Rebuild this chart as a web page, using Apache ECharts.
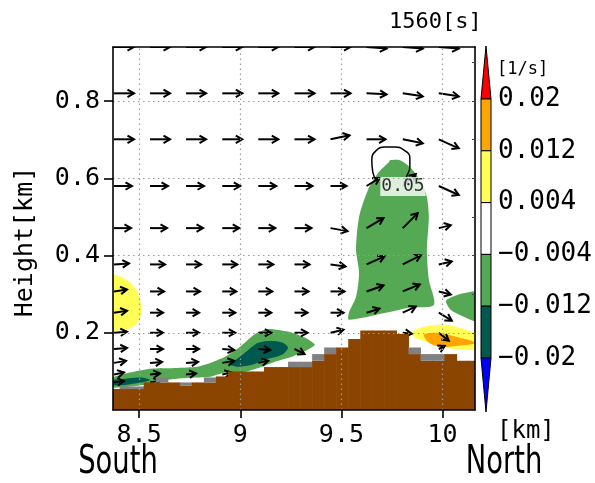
<!DOCTYPE html>
<html><head><meta charset="utf-8">
<script src="https://cdn.jsdelivr.net/npm/echarts@6/dist/echarts.min.js"></script>
<style>html,body{margin:0;padding:0;background:#fff}#c{width:595px;height:483px}</style>
</head><body><div id="c"></div>
<script>
// ---------- data ----------
const titleText = '1560[s]';
const xRange = [8.371, 10.16];
const yRange = [0, 0.94];
const xTicks = [8.5, 9, 9.5, 10];
const yTicks = [0.2, 0.4, 0.6, 0.8];
const yMinorTicks = [0.1, 0.2, 0.3, 0.4, 0.5, 0.6, 0.7, 0.8, 0.9];
const colorLevels = ['0.02', '0.012', '0.004', '\u22120.004', '\u22120.012', '\u22120.02'];
const colorFills = ['#ff0000', '#ffa500', '#ffff55', '#ffffff', '#55a955', '#00594f', '#0000ff'];

// terrain cells (centre x in km, top of terrain in km, top of grey cell in km)
const terrainX = [8.3755, 8.4350, 8.4944, 8.5539, 8.6133, 8.6728, 8.7323, 8.7917, 8.8512, 8.9106,
  8.9701, 9.0296, 9.0890, 9.1485, 9.2079, 9.2674, 9.3269, 9.3863, 9.4458, 9.5052,
  9.5647, 9.6242, 9.6836, 9.7431, 9.8025, 9.8620, 9.9215, 9.9809, 10.0404, 10.0998, 10.1593];
const terrainH = [0.0543, 0.0543, 0.0543, 0.0714, 0.0714, 0.0714, 0.0636, 0.0714, 0.0714, 0.0869,
  0.0998, 0.0998, 0.0998, 0.1112, 0.1112, 0.1112, 0.1112, 0.1275, 0.1448, 0.1619,
  0.1836, 0.2058, 0.2058, 0.2058, 0.1965, 0.1448, 0.1275, 0.1275, 0.1448, 0.1275, 0.1275];
const greyH = [null, 0.061, 0.061, null, 0.0843, null, 0.0714, null, 0.0843, null,
  null, null, null, null, null, 0.125, 0.125, 0.1448, 0.1619, null,
  null, null, null, null, null, 0.1619, 0.1448, 0.1448, null, null, null];

// wind vectors (tail positions, u and w components in arbitrary m/s-like units)
const arrowX = [8.376, 8.554, 8.732, 8.911, 9.089, 9.268, 9.446, 9.624, 9.803, 9.981];
const arrowZ = [0.940, 0.820, 0.701, 0.580, 0.471, 0.377, 0.307, 0.252, 0.200, 0.158, 0.122, 0.092, 0.072];
const uRows = [
  [10, 10, 10, 10, 10, 10, 10, 10, 10, 10],
  [10, 10, 10, 10, 10, 10, 10, 10, 10, 10],
  [10, 10, 10, 10, 10, 10, 9.5, 9.5, 10, 10],
  [9, 9, 9, 9, 9, 9, 8, 6.5, 6.5, 10],
  [8.5, 8.5, 8.5, 8.5, 8.5, 8.5, 8.5, 8.5, 7.5, 6],
  [7.5, 7.5, 7.5, 7.5, 7.5, 7.5, 7.5, 9, 9, 6.5],
  [6.5, 7, 7, 7, 7, 7, 7, 8.5, 8.5, 6],
  [6.5, 6.5, 6.5, 6.5, 6.5, 6.5, 6.5, 6.5, 6.5, 6.5],
  [6.5, 6.5, 6.5, 6.5, 6.5, 6.5, 6.5, null, 4.5, 5],
  [6.5, 6.5, 6.5, 6, 6, 5, null, null, null, 3],
  [6, 6, 6, 6, 5, null, null, null, null, null],
  [5, 5, 5, 4.5, null, null, null, null, null, null],
  [5, 5, null, null, null, null, null, null, null, null]
];
const wRows = [
  [0, 0, 0, 0, 0, 0, 0, -0.8, -0.8, -0.8],
  [0, 0, 0, 0, 0, 0, 0, -0.5, -1.5, -1.5],
  [0, 0, 0, 0, 0, 0, 2, 0, -2, -4.5],
  [0, 0, 0, 0, 0, 0, 0, 4, 6, -4.5],
  [0, 0, 0, 0, 0, 0, -1.5, 5, 7.5, 1.5],
  [0.5, 0, 0, 0, 0, 0, -1, 4, 4.5, 1.5],
  [1, 0, 0, 0, 0, 0, 0, 3, 3.5, -1.5],
  [1, 0, 0, 0, 0, 0, 0, 2, 3, -4],
  [0.5, 0, 0, 0, 0, 0, 1.5, null, -0.5, -4],
  [0.5, 0, 0, -0.5, -0.5, -2.5, null, null, null, 1.5],
  [1, 0.5, 0.5, 1, 1, null, null, null, null, null],
  [1, 0.5, 0.5, 1, null, null, null, null, null, null],
  [0.5, 0.5, null, null, null, null, null, null, null, null]
];

// shaded vorticity regions (x km, z km)
const greenTower = [[9.739, 0.647], [9.789, 0.647], [9.838, 0.629], [9.898, 0.588], [9.922, 0.552],
  [9.932, 0.500], [9.922, 0.415], [9.932, 0.337], [9.957, 0.272], [9.833, 0.265], [9.720, 0.252],
  [9.537, 0.234], [9.537, 0.252], [9.572, 0.293], [9.587, 0.355], [9.572, 0.415], [9.587, 0.500],
  [9.631, 0.570], [9.685, 0.616], [9.735, 0.642]];
const greenRight = [[10.016, 0.283], [10.090, 0.301], [10.194, 0.306], [10.194, 0.226], [10.115, 0.239], [10.041, 0.259]];
const greenBand = [[8.357, 0.081], [8.455, 0.097], [8.554, 0.107], [8.688, 0.109], [8.786, 0.112],
  [8.851, 0.122], [8.925, 0.138], [8.999, 0.164], [9.073, 0.197], [9.137, 0.210], [9.236, 0.203],
  [9.320, 0.187], [9.369, 0.169], [9.334, 0.156], [9.255, 0.138], [9.171, 0.125], [9.107, 0.112],
  [9.023, 0.099], [8.925, 0.097], [8.851, 0.086], [8.786, 0.084], [8.688, 0.081], [8.569, 0.073],
  [8.520, 0.065], [8.391, 0.058], [8.357, 0.058]];
const tealMid = [[8.959, 0.122], [9.023, 0.148], [9.088, 0.174], [9.157, 0.179], [9.211, 0.174],
  [9.236, 0.161], [9.206, 0.143], [9.122, 0.130], [9.058, 0.117], [8.989, 0.112], [8.949, 0.117]];
const tealLeft = [[8.357, 0.076], [8.431, 0.081], [8.505, 0.084], [8.554, 0.078], [8.505, 0.071], [8.431, 0.065], [8.357, 0.065]];
const yellowLeft = [[8.350, 0.350], [8.411, 0.345], [8.460, 0.329], [8.495, 0.303], [8.510, 0.267],
  [8.505, 0.239], [8.470, 0.215], [8.411, 0.208], [8.350, 0.208]];
const yellowRight = [[9.853, 0.203], [9.903, 0.215], [10.016, 0.221], [10.115, 0.208], [10.194, 0.190],
  [10.194, 0.161], [10.125, 0.156], [10.016, 0.161], [9.918, 0.177], [9.858, 0.190]];
const orangeRight = [[9.908, 0.195], [9.967, 0.200], [10.066, 0.190], [10.164, 0.174], [10.066, 0.166], [9.982, 0.164], [9.927, 0.177]];

// contour line of another field, with its label
const contourLevel = '0.05';
const contourLine = [[9.675, 0.592], [9.655, 0.616], [9.650, 0.647], [9.670, 0.671], [9.715, 0.681],
  [9.764, 0.681], [9.809, 0.673], [9.838, 0.653], [9.838, 0.629], [9.823, 0.606], [9.809, 0.585]];
const contourLabelAt = [9.804, 0.579];

// ---------- chart ----------
const mono = "'DejaVu Sans Mono', monospace";
const narrow = "'Liberation Sans Narrow', 'DejaVu Sans Condensed', sans-serif";
const chart = echarts.init(document.getElementById('c'), null, { renderer: 'canvas' });
const ARROW_SCALE = 2; // px per unit

function polySeries(pts, color, z, smooth) {
  return {
    type: 'custom', coordinateSystem: 'cartesian2d', clip: true, silent: true, z: z,
    data: pts, encode: { x: 0, y: 1 },
    renderItem: function (params, api) {
      if (params.dataIndex !== 0) return null;
      return { type: 'polygon', shape: { points: pts.map(function (p) { return api.coord(p); }), smooth: smooth },
        style: { fill: color, stroke: null } };
    }
  };
}

const arrowData = [];
arrowZ.forEach(function (z, r) {
  arrowX.forEach(function (x, c) {
    const u = uRows[r][c], w = wRows[r][c];
    if (u !== null && u !== undefined) arrowData.push([x, z, u, w]);
  });
});

const terrainData = terrainX.map(function (x, i) { return [x, terrainH[i], greyH[i] === null ? NaN : greyH[i]]; });
const halfCell = (terrainX[1] - terrainX[0]) / 2;

const series = [
  polySeries(greenTower, colorFills[4], 1, 0.25),
  polySeries(greenRight, colorFills[4], 1, 0.2),
  polySeries(greenBand, colorFills[4], 1, 0.2),
  polySeries(tealMid, colorFills[5], 1.1, 0.3),
  polySeries(tealLeft, colorFills[5], 1.1, 0.3),
  polySeries(yellowLeft, colorFills[2], 1, 0.3),
  polySeries(yellowRight, colorFills[2], 1, 0.3),
  polySeries(orangeRight, colorFills[1], 1.1, 0.3),
  {
    type: 'custom', coordinateSystem: 'cartesian2d', clip: true, silent: true, z: 3,
    data: arrowData, encode: { x: 0, y: 1 },
    renderItem: function (params, api) {
      const p0 = api.coord([api.value(0), api.value(1)]);
      const dx = api.value(2) * ARROW_SCALE, dy = -api.value(3) * ARROW_SCALE;
      const p1 = [p0[0] + dx, p0[1] + dy];
      const a = Math.atan2(dy, dx), hl = 7.5, ha = 0.52;
      const h1 = [p1[0] - hl * Math.cos(a - ha), p1[1] - hl * Math.sin(a - ha)];
      const h2 = [p1[0] - hl * Math.cos(a + ha), p1[1] - hl * Math.sin(a + ha)];
      const st = { stroke: '#000', lineWidth: 2, fill: null, lineJoin: 'miter' };
      return { type: 'group', children: [
        { type: 'polyline', shape: { points: [p0, p1] }, style: st },
        { type: 'polyline', shape: { points: [h1, p1, h2] }, style: st }
      ] };
    }
  },
  {
    type: 'custom', coordinateSystem: 'cartesian2d', clip: true, silent: true, z: 4,
    data: terrainData, encode: { x: 0, y: 1 },
    renderItem: function (params, api) {
      const x = api.value(0), h = api.value(1), g = api.value(2);
      const a = api.coord([x - halfCell, yRange[0]]);
      const b = api.coord([x + halfCell, h]);
      const kids = [{ type: 'rect', shape: { x: a[0] - 0.3, y: b[1], width: b[0] - a[0] + 0.6, height: a[1] - b[1] + 2 }, style: { fill: '#8b4500' } }];
      if (!isNaN(g)) {
        const c = api.coord([x + halfCell, g]);
        kids.push({ type: 'rect', shape: { x: a[0] - 0.3, y: c[1], width: b[0] - a[0] + 0.6, height: b[1] - c[1] }, style: { fill: '#808080' } });
      }
      return { type: 'group', children: kids };
    }
  },
  {
    type: 'line', data: contourLine, smooth: 0.5, symbol: 'none', silent: true, z: 5,
    lineStyle: { color: '#000', width: 1.5 }
  },
  {
    type: 'scatter', data: [contourLabelAt], symbol: 'rect', symbolSize: 1, silent: true, z: 6,
    itemStyle: { color: 'rgba(0,0,0,0)' },
    label: { show: true, position: 'inside', formatter: contourLevel, fontFamily: mono, fontSize: 18,
      color: '#000', backgroundColor: '#fff', padding: [1, 1, 0, 1] }
  },
  {
    type: 'scatter', data: [[xRange[0], yRange[0]]], symbolSize: 0, silent: true, z: 8,
    markLine: {
      silent: true, symbol: ['none', 'none'], label: { show: false }, z: 8,
      lineStyle: { color: '#9a9a9a', width: 1.2, type: [1.5, 3.5] },
      data: xTicks.map(function (v) { return { xAxis: v }; }).concat(yTicks.map(function (v) { return { yAxis: v }; }))
    }
  }
];

// colorbar (legend) built from colour levels
const cbX = 481, cbW = 10, cbTip0 = 46, cbB0 = 99, cbStep = 51.8;
const graphics = [];
const bounds = colorLevels.map(function (_, i) { return cbB0 + cbStep * i; });
graphics.push({ type: 'polygon', shape: { points: [[cbX + cbW / 2, cbTip0], [cbX + cbW, bounds[0]], [cbX, bounds[0]]] },
  style: { fill: colorFills[0], stroke: '#000', lineWidth: 1 }, z: 20 });
for (let i = 0; i < bounds.length - 1; i++) {
  graphics.push({ type: 'rect', shape: { x: cbX, y: bounds[i], width: cbW, height: bounds[i + 1] - bounds[i] },
    style: { fill: colorFills[i + 1], stroke: '#000', lineWidth: 1 }, z: 20 });
}
const last = bounds[bounds.length - 1];
graphics.push({ type: 'polygon', shape: { points: [[cbX, last], [cbX + cbW, last], [cbX + cbW / 2, last + (bounds[0] - cbTip0) + 1]] },
  style: { fill: colorFills[6], stroke: '#000', lineWidth: 1 }, z: 20 });
colorLevels.forEach(function (t, i) {
  graphics.push({ type: 'text', x: 498, y: bounds[i], style: { text: t, font: '26px ' + mono, fill: '#000', verticalAlign: 'middle', align: 'left' }, z: 20 });
});
graphics.push({ type: 'text', x: 497, y: 70, style: { text: '[1/s]', font: '17px ' + mono, fill: '#000', verticalAlign: 'middle' }, z: 20 });
graphics.push({ type: 'text', x: 497, y: 432, style: { text: '[km]', font: '24px ' + mono, fill: '#000', verticalAlign: 'middle' }, z: 20 });
graphics.push({ type: 'text', x: 389, y: 22, style: { text: titleText, font: '22px ' + mono, fill: '#000', verticalAlign: 'middle' }, z: 20 });
graphics.push({ type: 'text', x: 25, y: 242, rotation: Math.PI / 2, style: { text: 'Height[km]', font: '25px ' + mono, fill: '#000', verticalAlign: 'middle', align: 'center' }, z: 20 });
graphics.push({ type: 'text', x: 118, y: 463, scaleX: 0.8, scaleY: 1.05, style: { text: 'South', font: '38px ' + narrow, fill: '#000', verticalAlign: 'middle', align: 'center' }, z: 20 });
graphics.push({ type: 'text', x: 504, y: 463, scaleX: 0.8, scaleY: 1.05, style: { text: 'North', font: '38px ' + narrow, fill: '#000', verticalAlign: 'middle', align: 'center' }, z: 20 });

const axisLineStyle = { color: '#000', width: 1.6 };
chart.setOption({
  animation: false,
  backgroundColor: '#fff',
  grid: { left: 113, right: 120, top: 47, bottom: 73, show: false },
  xAxis: [
    { type: 'value', min: xRange[0], max: xRange[1], position: 'bottom', z: 10,
      axisLine: { show: true, onZero: false, lineStyle: axisLineStyle },
      axisTick: { show: true, customValues: xTicks, length: 8, lineStyle: axisLineStyle },
      axisLabel: { show: true, customValues: xTicks, margin: 13, fontFamily: mono, fontSize: 25, color: '#000',
        formatter: function (v) { return String(v); } },
      splitLine: { show: false } },
    { type: 'value', min: xRange[0], max: xRange[1], position: 'top', z: 10,
      axisLine: { show: true, onZero: false, lineStyle: axisLineStyle },
      axisTick: { show: false }, axisLabel: { show: false }, splitLine: { show: false } }
  ],
  yAxis: [
    { type: 'value', min: yRange[0], max: yRange[1], position: 'left', z: 10,
      axisLine: { show: true, onZero: false, lineStyle: axisLineStyle },
      axisTick: { show: true, customValues: yTicks, length: 9, lineStyle: axisLineStyle },
      axisLabel: { show: true, customValues: yTicks, margin: 13, fontFamily: mono, fontSize: 25, color: '#000',
        formatter: function (v) { return v.toFixed(1); } },
      splitLine: { show: false } },
    { type: 'value', min: yRange[0], max: yRange[1], position: 'right', z: 10,
      axisLine: { show: true, onZero: false, lineStyle: axisLineStyle },
      axisTick: { show: true, inside: true, customValues: yMinorTicks, length: 3, lineStyle: { color: '#444', width: 1 } },
      axisLabel: { show: false }, splitLine: { show: false } }
  ],
  series: series,
  graphic: { elements: graphics }
});
</script></body></html>
